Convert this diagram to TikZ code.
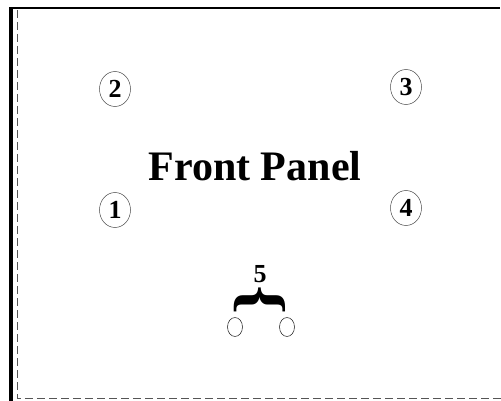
\documentclass[tikz,border=0pt]{standalone}
\usepackage{fontspec}
\setmainfont{Liberation Serif}
\usetikzlibrary{positioning, shapes.geometric}
\definecolor{dashgray}{HTML}{555555}

\begin{document}
\begin{tikzpicture}[
  x=1pt, y=-1pt,
  pnode/.style={ellipse, minimum width=31pt, minimum height=35pt,
    draw=black!70, line width=0.5pt, inner sep=0pt,
    font=\fontsize{26}{26}\selectfont\bfseries},
  jack/.style={ellipse, minimum width=15pt, minimum height=19pt,
    draw=black!80, line width=0.6pt, inner sep=0pt},
  edge/.style={dashgray, line width=1pt, dash pattern=on 8pt off 4pt}
]
\useasboundingbox (0,0) rectangle (501,401);

% ---- Panel border ----
\draw[line width=4pt] (11,8) -- (11,401);
\draw[line width=2pt] (9,8.5) -- (500,8.5);
\draw[edge] (17,10) -- (17,398) -- (501,398);

% ---- Title ----
\node[font=\fontsize{42}{42}\selectfont\bfseries] (title) at (255,166) {Front Panel};

% ---- Numbered points ----
\node[pnode] (p2) at (115,89) {2};
\node[pnode] (p3) at (406,87) {3};
\node[pnode] (p1) at (115,210) {1};
\node[pnode] (p4) at (406,208) {4};

% ---- Connector 5 ----
\node[font=\fontsize{26}{26}\selectfont\bfseries] (n5) at (260,274) {5};
\node[yscale=1.2, rotate=-90, font=\fontsize{62}{62}\selectfont\bfseries, inner sep=0pt] (brace) at (260,300) {\{};
\node[jack] (j1) at (235,327) {};
\node[jack] (j2) at (287,327) {};

\end{tikzpicture}
\end{document}
